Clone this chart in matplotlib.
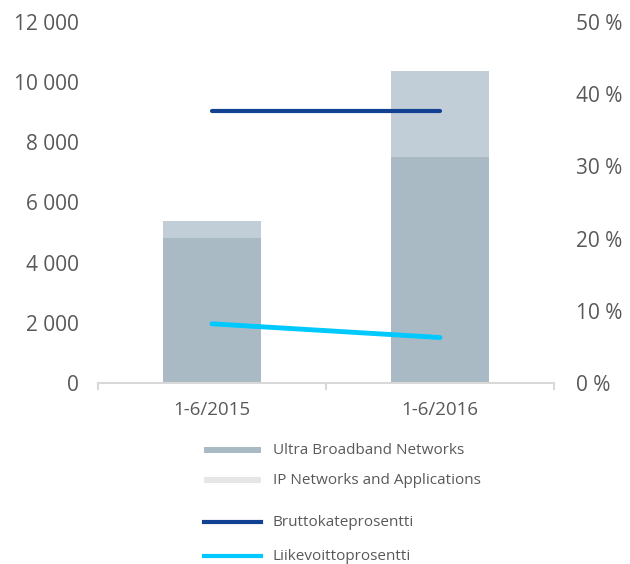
import matplotlib
matplotlib.use("Agg")
import matplotlib.pyplot as plt
from matplotlib.lines import Line2D
from matplotlib.patches import Rectangle
from matplotlib.ticker import FuncFormatter

plt.rcParams['font.family'] = ['Open Sans', 'DejaVu Sans']

periods = ["1-6/2015", "1-6/2016"]
ultra_broadband = [4810, 7520]
ip_networks = [590, 2850]
brutto_pct = [37.7, 37.7]
liike_pct = [8.2, 6.3]

TXT = "#595959"
C_UBN = "#a9bac4"
C_IPN = "#c2ced7"
C_IPN_LEG = "#e6e6e6"
C_BRUTTO = "#124191"
C_LIIKE = "#00c9ff"

fig = plt.figure(figsize=(6.3, 5.64), dpi=100)
ax = fig.add_axes([98 / 630, 1 - 383 / 564, 456 / 630, 361 / 564])
x = list(range(len(periods)))

ax.bar(x, ultra_broadband, width=0.43, color=C_UBN, zorder=2)
ax.bar(x, ip_networks, width=0.43, bottom=ultra_broadband, color=C_IPN, zorder=2)
ax.set_xlim(-0.5, 1.5)
ax.set_ylim(0, 12000)
ax.set_yticks(range(0, 12001, 2000))
ax.yaxis.set_major_formatter(FuncFormatter(lambda v, p: f"{int(v):,}".replace(",", " ")))
ax.set_xticks(x)
ax.set_xticklabels(periods)
for s in ["top", "right", "left"]:
    ax.spines[s].set_visible(False)
ax.spines["bottom"].set_color("#d9d9d9")
ax.spines["bottom"].set_linewidth(1.5)
ax.tick_params(axis="y", length=0, labelsize=15, labelcolor=TXT, pad=14)
ax.tick_params(axis="x", length=0, labelsize=13.5, labelcolor=TXT, pad=13)
# minor ticks at category boundaries
ax.set_xticks([-0.5, 0.5, 1.5], minor=True)
ax.tick_params(axis="x", which="minor", length=5, color="#d9d9d9", width=1.5)

ax2 = ax.twinx()
ax2.plot(x, brutto_pct, color=C_BRUTTO, lw=3, solid_capstyle="round", zorder=3)
ax2.plot(x, liike_pct, color=C_LIIKE, lw=3.5, solid_capstyle="round", zorder=3)
ax2.set_ylim(0, 50)
ax2.set_yticks(range(0, 51, 10))
ax2.yaxis.set_major_formatter(FuncFormatter(lambda v, p: f"{int(v)} %"))
ax2.tick_params(axis="y", length=0, labelsize=15, labelcolor=TXT, pad=16)
for s in ["top", "right", "left", "bottom"]:
    ax2.spines[s].set_visible(False)

# legend, drawn by hand to keep the uneven row spacing
W, H = 630, 564
rows = [
    ("patch", C_UBN, "Ultra Broadband Networks", 450),
    ("patch", C_IPN_LEG, "IP Networks and Applications", 480),
    ("line", C_BRUTTO, "Bruttokateprosentti", 522),
    ("line", C_LIIKE, "Liikevoittoprosentti", 556),
]
for kind, col, label, yp in rows:
    if kind == "patch":
        fig.add_artist(Rectangle((204 / W, 1 - (yp + 3) / H), 57 / W, 6 / H,
                                 transform=fig.transFigure, color=col, lw=0))
    else:
        fig.add_artist(Line2D([204 / W, 261 / W], [1 - yp / H] * 2,
                              transform=fig.transFigure, color=col, lw=3))
    fig.text(273 / W, 1 - yp / H, label, fontsize=11, color=TXT, va="center", ha="left")

fig.savefig("out.png", dpi=100)
